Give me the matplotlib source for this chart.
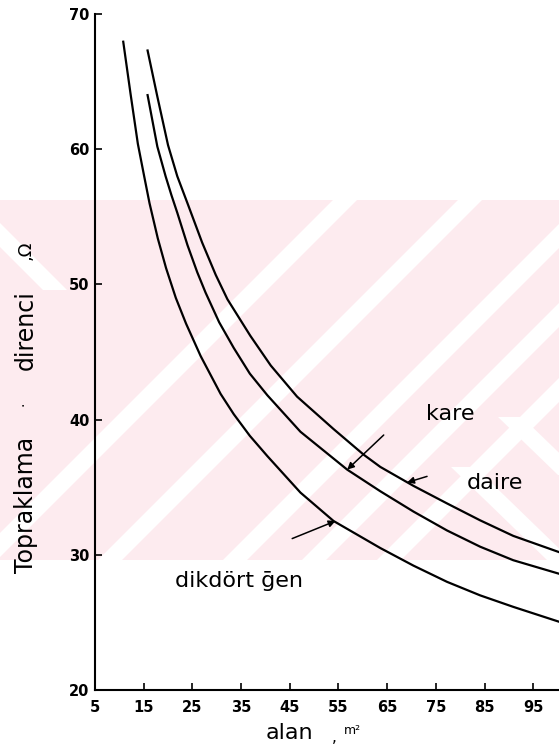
import matplotlib
matplotlib.use("Agg")
import matplotlib.pyplot as plt
from matplotlib.patches import Rectangle, Polygon

# values (alan in m2, direnc in ohm)
kare_x = [15.8, 17.8, 20.0, 21.9, 24.1, 27.0, 29.8, 32.2, 36.9, 41.1, 46.5,
          54.0, 60.2, 63.6, 70.4, 77.3, 84.1, 90.9, 100.3]
kare_y = [67.3, 63.9, 60.3, 58.0, 55.9, 53.1, 50.7, 48.9, 46.2, 44.0, 41.7,
          39.3, 37.4, 36.5, 35.1, 33.8, 32.55, 31.4, 30.2]

daire_x = [15.8, 17.8, 19.5, 20.7, 21.9, 24.0, 26.0, 27.7, 30.5, 33.5, 36.8,
           40.4, 47.2, 56.8, 63.6, 70.4, 77.3, 84.1, 90.9, 100.3]
daire_y = [64.0, 60.2, 58.0, 56.6, 55.3, 52.9, 50.9, 49.4, 47.2, 45.3, 43.4,
           41.8, 39.1, 36.3, 34.7, 33.2, 31.8, 30.6, 29.6, 28.6]

dik_x = [10.8, 12.3, 13.8, 15.1, 16.2, 17.9, 19.6, 21.6, 23.7, 26.7, 30.8,
         33.5, 36.8, 40.4, 47.2, 54.0, 63.6, 70.4, 77.3, 84.1, 90.9, 100.3]
dik_y = [67.95, 64.1, 60.4, 58.0, 56.0, 53.4, 51.2, 49.0, 47.1, 44.7, 41.9,
         40.4, 38.8, 37.3, 34.6, 32.5, 30.5, 29.2, 28.0, 27.0, 26.15, 25.05]

xticks = [5, 15, 25, 35, 45, 55, 65, 75, 85, 95]
yticks = [20, 30, 40, 50, 60, 70]

W, H = 559, 748
fig = plt.figure(figsize=(W / 100, H / 100), dpi=100)


def fx(px):
    return px / W


def fy(py):
    return 1 - py / H


# faint pink watermark band of the scan, with white diagonal stripes
band = Rectangle((0, fy(560)), 1, fy(200) - fy(560), transform=fig.transFigure,
                 facecolor="#fdebef", edgecolor="none", zorder=-2)
fig.add_artist(band)
stripes = [(-15, 560, 345, 200), (110, 560, 470, 200), (235, 560, 595, 200),
           (314, 560, 674, 200), (389, 560, 749, 200),
           (463, 467, 559, 560), (510, 417, 570, 475), (-20, 215, 55, 290)]
sw = 24
for x1, y1, x2, y2 in stripes:
    pts = [(fx(x1 - sw / 2), fy(y1)), (fx(x1 + sw / 2), fy(y1)),
           (fx(x2 + sw / 2), fy(y2)), (fx(x2 - sw / 2), fy(y2))]
    p = Polygon(pts, closed=True, transform=fig.transFigure,
                facecolor="white", edgecolor="none", zorder=-1)
    fig.add_artist(p)
    p.set_clip_path(band)

ax = fig.add_axes([fx(95), fy(690), fx(559) - fx(95), fy(14) - fy(690)])
ax.patch.set_visible(False)

ax.plot(kare_x, kare_y, color="black", lw=1.6)
ax.plot(daire_x, daire_y, color="black", lw=1.6)
ax.plot(dik_x, dik_y, color="black", lw=1.6)

ax.set_xlim(5, 100.3)
ax.set_ylim(20, 70)
ax.set_xticks(xticks)
ax.set_yticks(yticks)
ax.tick_params(direction="in", length=5, width=1.2, labelsize=10.5)
ax.tick_params(axis="x", pad=7)
ax.tick_params(axis="y", pad=4)
for lab in ax.get_xticklabels() + ax.get_yticklabels():
    lab.set_fontweight("bold")
for s in ["top", "right"]:
    ax.spines[s].set_visible(False)
for s in ["left", "bottom"]:
    ax.spines[s].set_linewidth(1.5)

# curve names and pointer arrows
ax.text(78.0, 40.45, "kare", fontsize=16, ha="center", va="center")
ax.text(87.2, 35.3, "daire", fontsize=16, ha="center", va="center")
ax.text(34.5, 28.05, "dikdört ḡen", fontsize=16, ha="center", va="center")
arr = dict(arrowstyle="-|>", lw=1.1, color="black", mutation_scale=10,
           shrinkA=0, shrinkB=0)
ax.annotate("", xy=(56.8, 36.3), xytext=(64.3, 38.86), arrowprops=arr)
ax.annotate("", xy=(69.1, 35.35), xytext=(73.2, 35.8), arrowprops=arr)
ax.annotate("", xy=(54.4, 32.5), xytext=(45.5, 31.2), arrowprops=arr)

# axis titles
fig.text(fx(289), fy(733), "alan", fontsize=16, ha="center", va="center")
fig.text(fx(334), fy(737), ",", fontsize=11, ha="center", va="center")
fig.text(fx(352), fy(731), "m²", fontsize=9, ha="center", va="center")
fig.text(fx(26), fy(505), "Topraklama", fontsize=17, rotation=90,
         ha="center", va="center")
fig.text(fx(24), fy(404), "·", fontsize=10, rotation=90,
         ha="center", va="center")
fig.text(fx(26), fy(330), "direnci", fontsize=17, rotation=90,
         ha="center", va="center")
fig.text(fx(26), fy(250), ",Ω", fontsize=13, rotation=90,
         ha="center", va="center")

fig.savefig("out.png", dpi=100)
